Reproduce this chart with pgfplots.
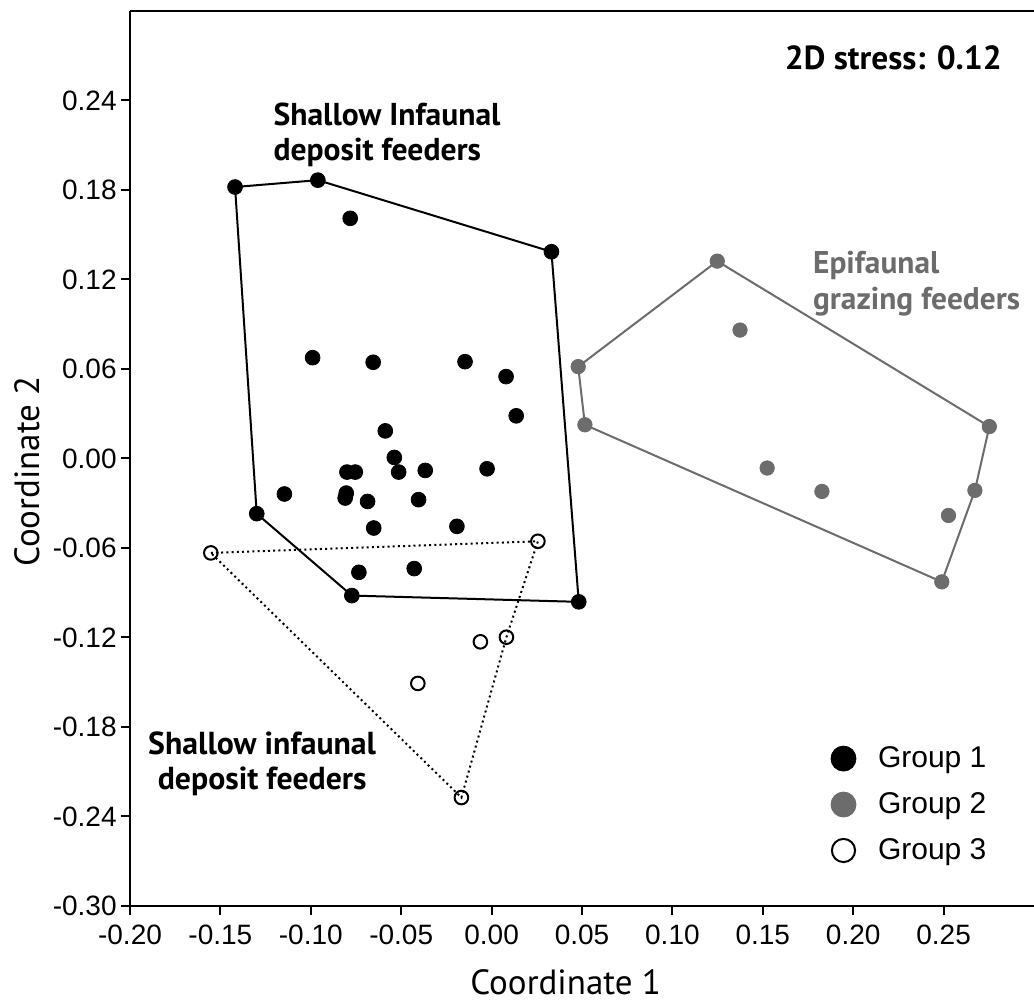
\documentclass[border=0pt]{standalone}
\usepackage{fontspec}
\setmainfont{Liberation Sans}
\newfontfamily\myr{PT Sans}
\usepackage{pgfplots}
\pgfplotsset{compat=1.18}
\definecolor{grp2}{RGB}{108,108,108}

\pgfplotstableread{
x y
-0.1419 0.1820
-0.0961 0.1866
-0.0782 0.1610
0.0331 0.1386
-0.0990 0.0676
-0.0655 0.0645
-0.0147 0.0649
0.0080 0.0549
0.0136 0.0286
-0.0588 0.0185
-0.0538 0.0007
-0.0800 -0.0091
-0.0754 -0.0091
-0.0514 -0.0091
-0.0367 -0.0080
-0.0025 -0.0069
-0.1146 -0.0238
-0.0804 -0.0232
-0.0810 -0.0265
-0.0686 -0.0288
-0.0404 -0.0276
-0.1299 -0.0370
-0.0652 -0.0466
-0.0192 -0.0455
-0.0734 -0.0763
-0.0428 -0.0738
-0.0773 -0.0919
0.0482 -0.0961
}\groupone

\pgfplotstableread{
x y
0.1248 0.1323
0.1374 0.0861
0.0479 0.0616
0.0516 0.0226
0.2753 0.0214
0.1524 -0.0064
0.1827 -0.0221
0.2673 -0.0214
0.2527 -0.0382
0.2490 -0.0827
}\grouptwo

\pgfplotstableread{
x y
-0.1553 -0.0633
-0.0062 -0.1229
0.0082 -0.1198
-0.0408 -0.1508
-0.0167 -0.2273
0.0256 -0.0555
}\groupthree

\begin{document}
\begin{tikzpicture}[trim axis right]
\begin{axis}[
    scale only axis,
    width=452pt, height=447.5pt,
    xmin=-0.20, xmax=0.30,
    ymin=-0.30, ymax=0.30,
    axis x line*=box,
    axis y line*=left,
    xtick pos=lower,
    ytick pos=left,
    xtick={-0.20,-0.15,...,0.26},
    ytick={-0.30,-0.24,...,0.25},
    tick align=outside,
    major tick length=4.5pt,
    every tick/.style={line width=1pt, black},
    axis line style={line width=1pt},
    tick label style={font=\fontsize{14}{16}\selectfont, inner sep=1pt},
    /pgf/number format/assume math mode=true,
    /pgf/number format/fixed,
    /pgf/number format/fixed zerofill,
    /pgf/number format/precision=2,
    yticklabel style={xshift=-1pt},
    xticklabel style={yshift=-4pt},
    xlabel={\myr Coordinate 1},
    ylabel={\myr Coordinate 2},
    label style={font=\fontsize{17.5}{20}\selectfont, inner sep=0pt},
    xlabel style={at={(rel axis cs:0.482,0)}, anchor=center, yshift=-38pt},
    ylabel style={at={(rel axis cs:0,0.4855)}, anchor=center, yshift=51.5pt},
    clip=false,
    legend style={draw=none, fill=none, font=\fontsize{15}{18}\selectfont,
        at={(rel axis cs:0.775,0.183)}, anchor=north west,
        inner sep=0pt, row sep=7pt, column sep=9pt,
        nodes={inner sep=2pt}},
    legend cell align=left,
    legend image code/.code={\draw[#1] plot coordinates {(6.25pt,0pt)};},
]
% hulls
\addplot[black, line width=1pt, forget plot] coordinates {
    (-0.1419,0.1820) (-0.0961,0.1866) (0.0331,0.1386) (0.0482,-0.0961)
    (-0.0773,-0.0919) (-0.1299,-0.0370) (-0.1419,0.1820)};
\addplot[grp2, line width=1pt, forget plot] coordinates {
    (0.1248,0.1323) (0.2753,0.0214) (0.2673,-0.0214) (0.2490,-0.0827)
    (0.0516,0.0226) (0.0479,0.0616) (0.1248,0.1323)};
% points
\addplot[only marks, mark=*, mark size=3.7pt, black, forget plot] table {\groupone};
\addplot[only marks, mark=*, mark size=3.6pt, grp2, forget plot] table {\grouptwo};
\addplot[only marks, mark=o, mark size=3.4pt, black, line width=1pt, forget plot] table {\groupthree};
\addplot[black, line width=1pt, dash pattern=on 1pt off 1.6pt, forget plot] coordinates {
    (-0.1553,-0.0633) (0.0256,-0.0555) (0.0082,-0.1198) (-0.0167,-0.2273) (-0.1553,-0.0633)};
% legend
\addlegendimage{only marks, mark=*, mark size=6.25pt, black}
\addlegendentry{Group 1}
\addlegendimage{only marks, mark=*, mark size=6.25pt, grp2}
\addlegendentry{Group 2}
\addlegendimage{only marks, mark=o, mark size=5.8pt, black, line width=1pt}
\addlegendentry{Group 3}
% annotations
\node[font=\myr\bfseries\fontsize{16.7}{18}\selectfont, anchor=center]
    at (axis cs:0.2222,0.2689) {2D stress: 0.12};
\node[font=\myr\bfseries\fontsize{15.8}{17.5}\selectfont, anchor=west, align=left, inner sep=0pt]
    at (axis cs:-0.1208,0.217) {Shallow Infaunal\\deposit feeders};
\node[font=\myr\bfseries\fontsize{15.7}{18}\selectfont, anchor=west, align=left, inner sep=0pt, text=grp2]
    at (axis cs:0.1776,0.1169) {Epifaunal\\grazing feeders};
\node[font=\myr\bfseries\fontsize{15.9}{17.5}\selectfont, anchor=center, align=center, inner sep=0pt]
    at (axis cs:-0.1269,-0.2047) {Shallow infaunal\\deposit feeders};
% page margins
\path (rel axis cs:0,1) ++(-65pt,5.5pt);
\path (rel axis cs:0,0) ++(0pt,-50pt);
\end{axis}
\end{tikzpicture}
\end{document}
